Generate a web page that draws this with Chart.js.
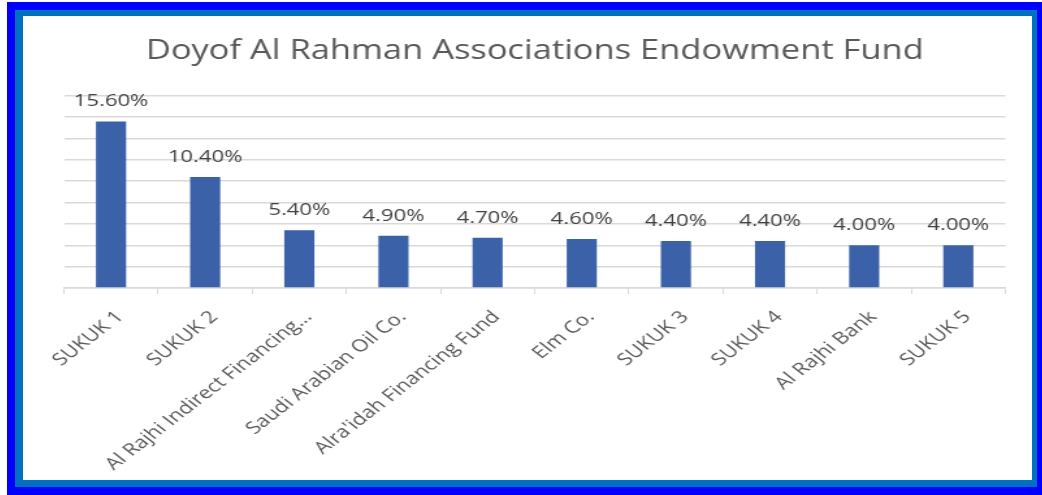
<!DOCTYPE html>
<html>
<head>
<meta charset="utf-8">
<script src="https://cdn.jsdelivr.net/npm/chart.js@4.4.1/dist/chart.umd.min.js"></script>
<style>
  html, body { margin: 0; padding: 0; background: #fff; }
  .box { position: absolute; }
  #outer { left: 7px; top: 2px; width: 1035px; height: 493px; background: #0000ff; }
  #mid { left: 15px; top: 10px; width: 1022px; height: 477px; background: #0070c0; }
  #plot { left: 23px; top: 16px; width: 1009px; height: 464px; background: #fff; overflow: hidden; }
  #chart { position: absolute; left: 0; top: 0; width: 776px; height: 464px; transform: scaleX(1.3003); transform-origin: 0 0; }
</style>
</head>
<body>
<div id="outer" class="box"></div>
<div id="mid" class="box"></div>
<div id="plot" class="box"><canvas id="chart" width="776" height="464"></canvas></div>
<script>
// data
const categories = [
  'SUKUK 1', 'SUKUK 2', 'Al Rajhi Indirect Financing...', 'Saudi Arabian Oil Co.',
  "Alra'idah Financing Fund", 'Elm Co.', 'SUKUK 3', 'SUKUK 4', 'Al Rajhi Bank', 'SUKUK 5'
];
const shares = [15.6, 10.4, 5.4, 4.9, 4.7, 4.6, 4.4, 4.4, 4.0, 4.0];
const chartTitle = 'Doyof Al Rahman Associations Endowment Fund';

// percent labels above each bar
const valueLabels = {
  id: 'valueLabels',
  afterDatasetsDraw(chart) {
    const ctx = chart.ctx;
    const meta = chart.getDatasetMeta(0);
    ctx.save();
    ctx.font = '17px "Open Sans"';
    ctx.fillStyle = '#404040';
    ctx.textAlign = 'center';
    ctx.textBaseline = 'alphabetic';
    meta.data.forEach((bar, i) => {
      ctx.fillText(shares[i].toFixed(2) + '%', bar.x, bar.y - 15);
    });
    ctx.restore();
  }
};

const ctx = document.getElementById('chart').getContext('2d');
new Chart(ctx, {
  type: 'bar',
  data: {
    labels: categories,
    datasets: [{
      data: shares,
      backgroundColor: '#3b62a9',
      borderWidth: 0,
      barPercentage: 0.32,
      categoryPercentage: 1
    }]
  },
  options: {
    responsive: false,
    animation: false,
    devicePixelRatio: 1,
    layout: { padding: { left: 31.5, right: 20.5, top: 0, bottom: 0 } },
    plugins: {
      legend: { display: false },
      tooltip: { enabled: false },
      title: {
        display: true,
        text: chartTitle,
        color: '#595959',
        font: { family: 'Open Sans', size: 26.5, weight: 'normal' },
        padding: { top: 20, bottom: 28 }
      }
    },
    scales: {
      x: {
        grid: { drawOnChartArea: false, drawTicks: true, tickLength: 6, color: '#d9d9d9', offset: true },
        border: { color: '#d9d9d9', width: 1.5 },
        ticks: {
          color: '#595959',
          font: { family: 'Open Sans', size: 17 },
          minRotation: 45, maxRotation: 45,
          autoSkip: false,
          padding: 13,
          labelOffset: 7
        },
        afterFit(s) { s.height = 192; }
      },
      y: {
        min: 0, max: 18,
        ticks: { display: false, stepSize: 2 },
        grid: { color: '#d9d9d9', drawTicks: false, lineWidth: 1.5 },
        border: { display: false },
        afterFit(s) { s.width = 0; }
      }
    }
  },
  plugins: [valueLabels]
});
</script>
</body>
</html>
